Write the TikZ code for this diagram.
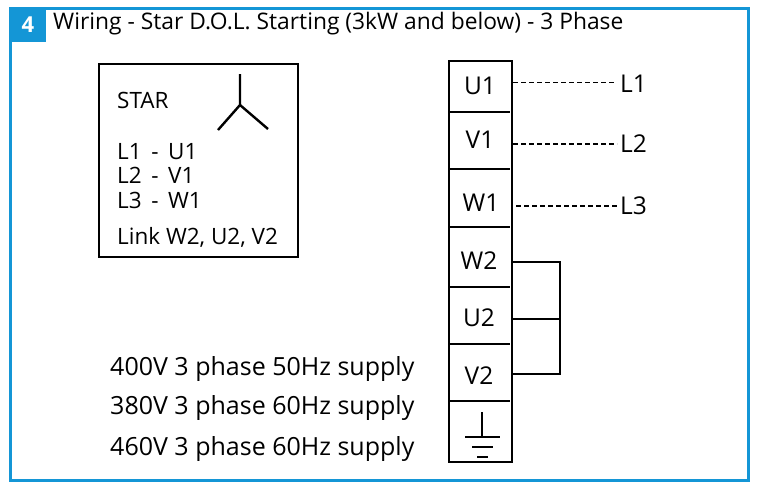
\documentclass[tikz,border=0pt]{standalone}
\usepackage{fontspec}
\setmainfont{Open Sans}
\definecolor{fr}{RGB}{20,150,214}
\begin{document}
\begin{tikzpicture}[x=1pt,y=-1pt,
 t/.style={inner sep=0pt,anchor=west,font=\fontsize{22.5}{26}\selectfont},
 term/.style={inner sep=0pt,font=\fontsize{24.5}{28}\selectfont},
 sup/.style={inner sep=0pt,anchor=west,font=\fontsize{25}{29}\selectfont},
 dsh/.style={line width=1.4pt,dash pattern=on 5pt off 3pt}]
\useasboundingbox (0,0) rectangle (760,490);
\fill[white] (0,0) rectangle (760,490);
\draw[fr,line width=3pt] (10,8) rectangle (748,480);
\fill[fr] (9,7) rectangle (46,42);
\node[inner sep=0pt,text=white,font=\bfseries\fontsize{22}{26}\selectfont] (num) at (28,25) {4};
\node[inner sep=0pt,anchor=west,font=\fontsize{22.8}{26}\selectfont] (title) at (53,24) {Wiring - Star D.O.L. Starting (3kW and below) - 3 Phase};
% left box
\draw[line width=1.3pt] (99,64) rectangle (298,257);
\node[t] (star) at (117,100) {STAR};
\coordinate (sc) at (240,105);
\draw[line width=2.4pt] (240,74) -- (sc) -- (218,130) (sc) -- (268,129);
\node[t] (a1) at (117,152) {L1\,\ -\ \,U1};
\node[t] (a2) at (117,175) {L2\,\ -\ \,V1};
\node[t] (a3) at (117,200) {L3\,\ -\ \,W1};
\node[t] (lk) at (117,237) {Link W2, U2, V2};
% supply
\node[sup] (s1) at (110,369) {400V 3 phase 50Hz supply};
\node[sup] (s2) at (110,408) {380V 3 phase 60Hz supply};
\node[sup] (s3) at (110,449) {460V 3 phase 60Hz supply};
% terminal block
\draw[line width=1.3pt] (449,61) rectangle (512,462);
\foreach \y in {112,169,227,287,344,401} \draw[line width=1.3pt] (449,\y) -- (510,\y);
\node[term] (U1) at (480,86) {U1};
\node[term] (V1) at (480,140) {V1};
\node[term] (W1) at (481,203) {W1};
\node[term] (W2) at (479,261) {W2};
\node[term] (U2) at (479,318) {U2};
\node[term] (V2) at (479,376) {V2};
% ground
\coordinate (g) at (482,412);
\draw[line width=1.2pt] (g) -- (482,437) (465,437) -- (500,437) (472,447) -- (493,447) (477,457) -- (488,457);
% lines
\node[term,anchor=west] (L1) at (620,84) {L1};
\node[term,anchor=west] (L2) at (620,144) {L2};
\node[term,anchor=west] (L3) at (620,206) {L3};
\draw[dsh] (513,82.5) -- (616,82.5);
\draw[dsh] (513,144) -- ([xshift=-3pt]L2.west);
\draw[dsh] (516,206) -- ([xshift=-3pt]L3.west);
\draw[line width=1.3pt] (512,262) -- (560,262) -- (560,374) -- (512,374) (512,319) -- (560,319);
\end{tikzpicture}
\end{document}
